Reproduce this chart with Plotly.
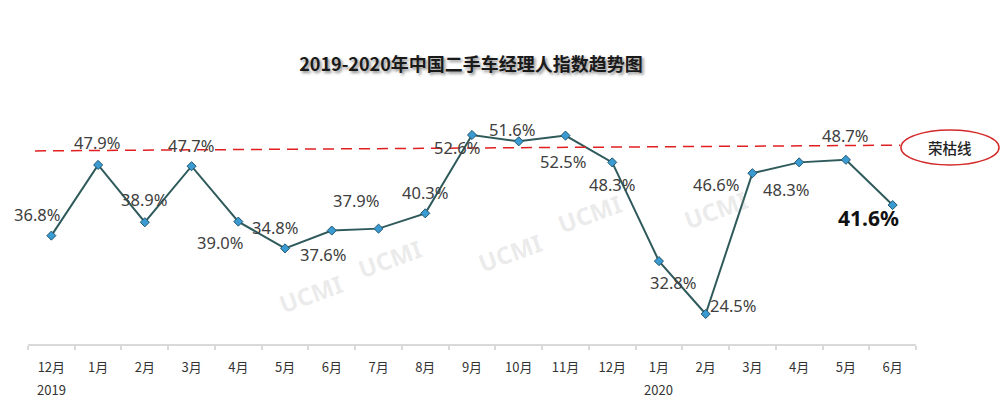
import plotly.graph_objects as go

# ---- data ----
months = ["12月", "1月", "2月", "3月", "4月", "5月", "6月", "7月", "8月", "9月",
          "10月", "11月", "12月", "1月", "2月", "3月", "4月", "5月", "6月"]
index_values = [36.8, 47.9, 38.9, 47.7, 39.0, 34.8, 37.6, 37.9, 40.3, 52.6,
                51.6, 52.5, 48.3, 32.8, 24.5, 46.6, 48.3, 48.7, 41.6]
year_labels = ["2019", "2020"]
year_positions = [0, 13]
boom_line_start = 50.1   # 荣枯线 (drawn slightly tilted as in the original)
boom_line_end = 51.0
boom_label = "荣枯线"
title_text = "2019-2020年中国二手车经理人指数趋势图"
watermark = "UCMI"

# label offsets in pixels (dx, dy up-positive), purely presentational
label_offsets = [(-14, 21), (-1, 22), (-1, 23), (-1, 21), (-18, -21), (-10, 21),
                 (-9, -24), (-23, 28), (0, 21), (-15, -13), (-7, 12), (-2, -26),
                 (0, -22), (14, -21), (27, 8), (-36, -11), (-13, -27), (-1, 24),
                 (-24, -13)]

x_idx = list(range(len(months)))
NUM_FONT = "Noto Sans, Open Sans, sans-serif"
CJK_FONT = "Noto Sans CJK SC, sans-serif"

fig = go.Figure()
fig.add_trace(go.Scatter(
    x=x_idx, y=index_values, mode="lines+markers",
    line=dict(color="#2F5A5C", width=2),
    marker=dict(symbol="diamond", size=7, color="#3A9AD2",
                line=dict(color="#24586E", width=1)),
    hoverinfo="skip", showlegend=False,
))

annotations = []
# watermarks
for (wx, wy) in [(0.275, 0.086), (0.408, 0.23), (0.543, 0.377), (0.677, 0.533), (0.819, 0.672)]:
    annotations.append(dict(xref="paper", yref="paper", x=wx, y=wy, text=watermark,
                            showarrow=False, textangle=-20,
                            font=dict(family=NUM_FONT, size=24, color="rgba(150,150,150,0.2)",
                                      weight="bold")))
# data labels
last = len(index_values) - 1
for i, v in enumerate(index_values):
    dx, dy = label_offsets[i]
    is_last = i == last
    annotations.append(dict(
        x=i, y=v, xref="x", yref="y", text=f"{v:.1f}%", showarrow=False,
        xshift=dx, yshift=dy,
        font=dict(family=NUM_FONT, size=21 if is_last else 16.5,
                  color="#111111" if is_last else "#404040",
                  weight="bold" if is_last else "normal"),
    ))
# year labels
for yl, yp in zip(year_labels, year_positions):
    annotations.append(dict(x=yp, y=-0.1885, xref="x", yref="paper", text=yl,
                            showarrow=False, yanchor="middle",
                            font=dict(family=CJK_FONT, size=13, color="#333333")))
# boom line label
annotations.append(dict(xref="paper", yref="paper", x=1.038, y=0.807, text=boom_label,
                        showarrow=False, xanchor="center", yanchor="middle",
                        font=dict(family=CJK_FONT, size=14.5, color="#222222", weight=500)))

shapes = [
    dict(type="line", xref="x", yref="y", x0=-0.35, x1=18.16,
         y0=boom_line_start, y1=boom_line_end,
         line=dict(color="#E02020", width=1.5, dash="11px,7px")),
    dict(type="circle", xref="paper", yref="paper", x0=0.983, x1=1.0935,
         y0=0.7336, y1=0.877, line=dict(color="#D42A2A", width=1.5),
         fillcolor="rgba(0,0,0,0)"),
]

fig.update_layout(
    width=1000, height=409,
    margin=dict(l=28, r=84, t=100, b=65),
    paper_bgcolor="white", plot_bgcolor="white",
    title=dict(text=title_text, x=0.471, xanchor="center", xref="container",
               y=1 - 65 / 409, yanchor="middle", yref="container",
               font=dict(family=CJK_FONT, size=18, color="#1a1a1a", weight="bold",
                         shadow="2px 2px 3px rgba(0,0,0,0.45)")),
    xaxis=dict(range=[-0.5, 18.5], tickmode="array", tickvals=x_idx, ticktext=months,
               ticks="", showline=True, linecolor="#D9D9D9", linewidth=1.5,
               showgrid=False, zeroline=False, ticklabelstandoff=11,
               tickfont=dict(family=CJK_FONT, size=13, color="#333333"),
               minor=dict(tickmode="linear", tick0=0.5, dtick=1, ticks="outside",
                          ticklen=4, tickcolor="#D9D9D9", tickwidth=1.5, showgrid=False)),
    yaxis=dict(range=[19.79, 58.09], visible=False),
    annotations=annotations, shapes=shapes,
)

fig.write_html("out.html", config={"displayModeBar": False},
               post_script="document.body.style.margin='0';document.body.style.overflow='hidden';")
